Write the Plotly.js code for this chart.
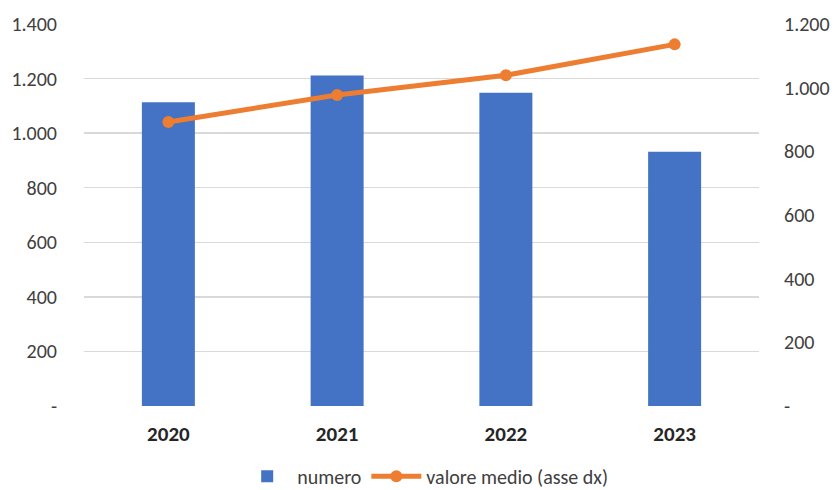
<!DOCTYPE html>
<html>
<head>
<meta charset="utf-8">
<script src="https://cdn.plot.ly/plotly-3.0.1.min.js"></script>
<style>html,body{margin:0;padding:0;background:#fff}#chart{width:837px;height:490px}</style>
</head>
<body>
<div id="chart"></div>
<script>
const years = ['2020', '2021', '2022', '2023'];
const numero = [1113, 1211, 1148, 932];
const valoreMedio = [892, 977, 1039, 1136];
const leftTickVals = [0, 200, 400, 600, 800, 1000, 1200, 1400];
const leftTickText = ['-', '200', '400', '600', '800', '1.000', '1.200', '1.400'];
const rightTickVals = [0, 200, 400, 600, 800, 1000, 1200];
const rightTickText = ['-', '200', '400', '600', '800', '1.000', '1.200'];

const font = 'Carlito, "Liberation Sans Narrow", "Arial Narrow", "Liberation Sans", sans-serif';

const traces = [
  {
    type: 'bar', x: years, y: numero, name: 'numero',
    marker: {color: '#4472C4'}, yaxis: 'y', hoverinfo: 'skip'
  },
  {
    type: 'scatter', mode: 'lines+markers', x: years, y: valoreMedio,
    name: 'valore medio (asse dx)', yaxis: 'y2',
    line: {color: '#ED7D31', width: 5},
    marker: {color: '#ED7D31', size: 12}, hoverinfo: 'skip'
  }
];

const layout = {
  width: 837, height: 490,
  margin: {l: 84, r: 78, t: 24, b: 84, autoexpand: false},
  paper_bgcolor: '#fff', plot_bgcolor: '#fff',
  font: {family: font, size: 20, color: '#404040'},
  bargap: 0.686,
  showlegend: true,
  legend: {orientation: 'h', x: 0.508, xanchor: 'center', xref: 'container',
           y: -0.184, yanchor: 'middle', yref: 'paper',
           font: {size: 20, color: '#404040'}, traceorder: 'normal', itemwidth: 50},
  xaxis: {
    type: 'category', showgrid: false, zeroline: false, showline: false,
    ticks: '', tickfont: {size: 21, color: '#262626', weight: 'bold'},
    ticklabelstandoff: 13
  },
  yaxis: {
    range: [0, 1400], tickvals: leftTickVals, ticktext: leftTickText,
    showgrid: true, gridcolor: '#d9d9d9', gridwidth: 1.5, zeroline: false,
    showline: false, ticks: '', ticklabelstandoff: 26,
    tickfont: {size: 20, color: '#404040'}
  },
  yaxis2: {
    overlaying: 'y', side: 'right', range: [0, 1200],
    tickvals: rightTickVals, ticktext: rightTickText,
    showgrid: false, zeroline: false, showline: false, ticks: '',
    ticklabelstandoff: 24, tickfont: {size: 20, color: '#404040'}
  }
};

Plotly.newPlot('chart', traces, layout, {displayModeBar: false, staticPlot: true});
</script>
</body>
</html>
